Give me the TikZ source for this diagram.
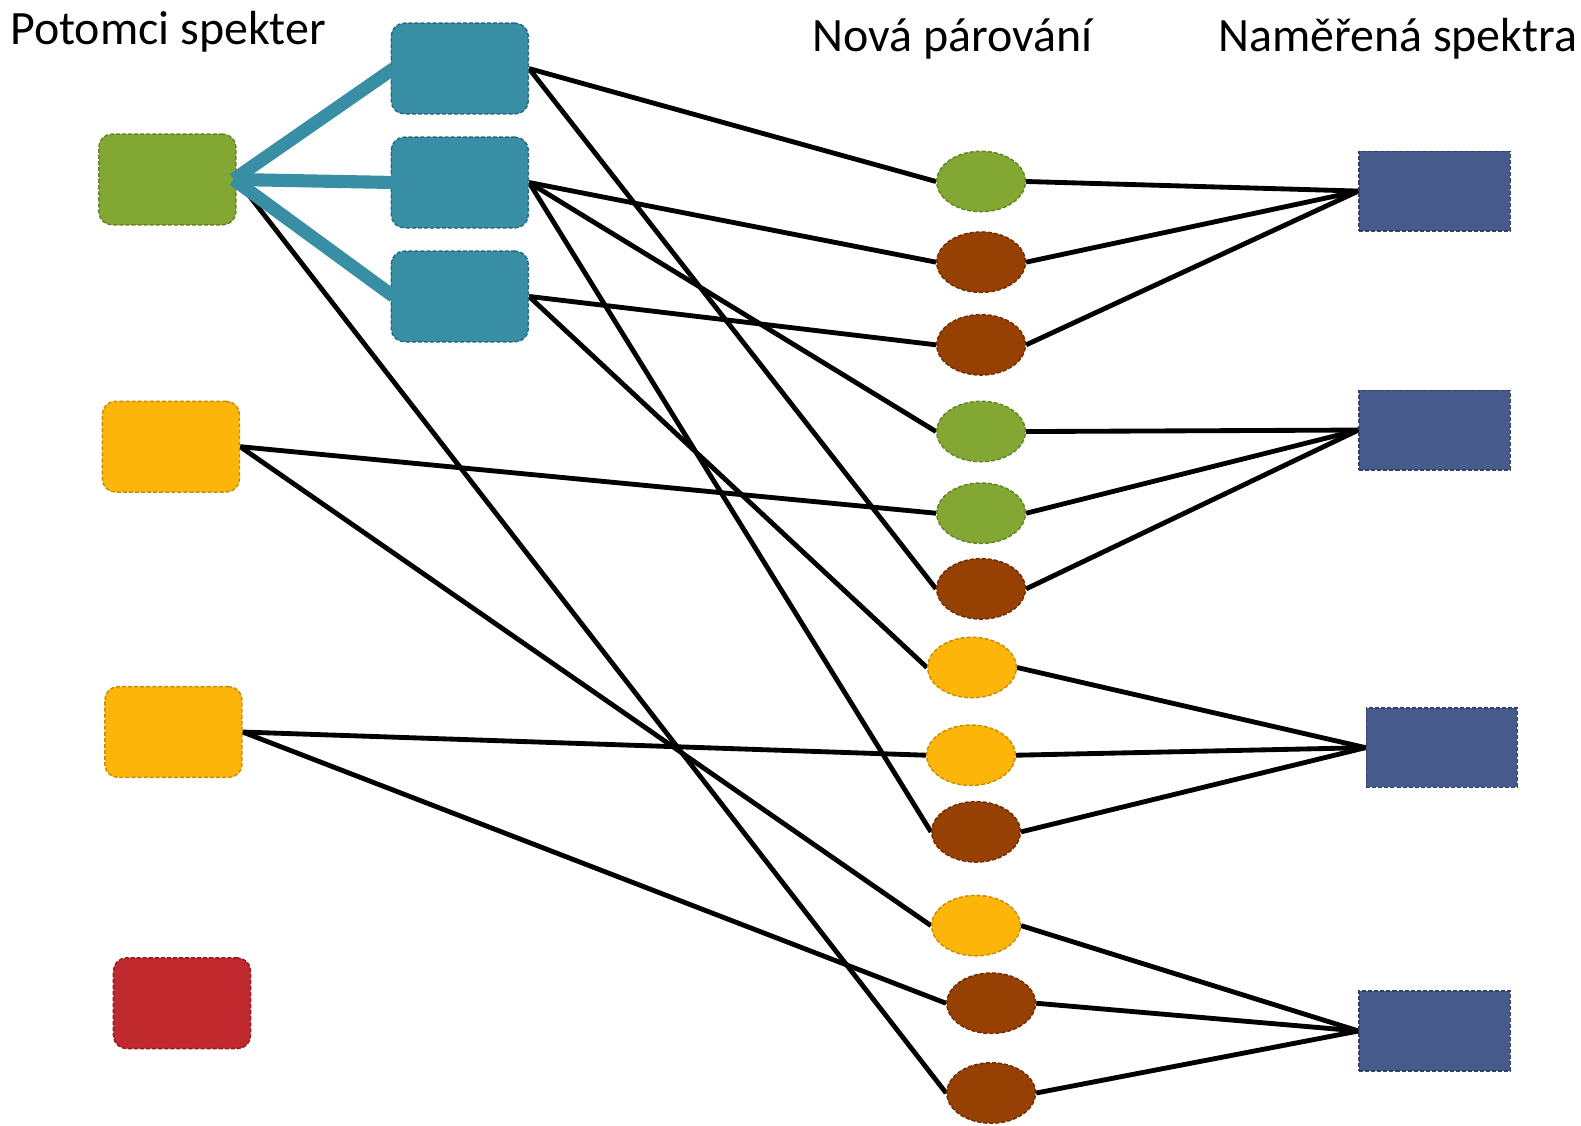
\documentclass[tikz,border=0pt]{standalone}
\usepackage{fontspec}
\setmainfont{Carlito}
\usetikzlibrary{shapes.geometric,backgrounds}
\definecolor{cgreen}{RGB}{130,167,50}
\definecolor{cgreenD}{RGB}{100,130,38}
\definecolor{cteal}{RGB}{56,142,165}
\definecolor{ctealD}{RGB}{40,105,125}
\definecolor{cyellow}{RGB}{253,181,10}
\definecolor{cyellowD}{RGB}{200,140,0}
\definecolor{cred}{RGB}{192,41,45}
\definecolor{credD}{RGB}{140,28,32}
\definecolor{cbrown}{RGB}{150,64,3}
\definecolor{cbrownD}{RGB}{110,45,2}
\definecolor{cblue}{RGB}{70,90,140}
\definecolor{cblueD}{RGB}{50,65,105}
\begin{document}
\begin{tikzpicture}[x=1pt,y=-1pt,
  dashborder/.style={draw, dash pattern=on 4pt off 2pt, line width=1.4pt},
  rbox/.style={dashborder, rounded corners=13pt, minimum width=136pt, minimum height=90pt, inner sep=0pt},
  ell/.style={dashborder, ellipse, minimum width=88pt, minimum height=60pt, inner sep=0pt},
  bbox/.style={dashborder, fill=cblue, draw=cblueD, minimum width=150pt, minimum height=79pt, inner sep=0pt},
  gfill/.style={fill=cgreen, draw=cgreenD},
  tfill/.style={fill=cteal, draw=ctealD},
  yfill/.style={fill=cyellow, draw=cyellowD},
  rfill/.style={fill=cred, draw=credD},
  bfill/.style={fill=cbrown, draw=cbrownD},
  link/.style={line width=4.8pt, black},
  tlink/.style={line width=13pt, cteal},
  title/.style={font=\fontsize{47.5}{54}\selectfont, anchor=base west, inner sep=0pt}
]
\useasboundingbox (0,0) rectangle (1568,1116);

\node[title] (t1) at (10,44) {Potomci spekter};
\node[title] (t2) at (806,51) {Nová párování};
\node[title] (t3) at (1208,51) {Naměřená spektra};

% left column
\node[rbox,gfill] (g) at (166,178) {};
\node[rbox,yfill] (y1) at (169.5,443) {};
\node[rbox,yfill] (y2) at (172,726) {};
\node[rbox,rfill] (r) at (180.5,995) {};

% teal
\node[rbox,tfill] (a1) at (456,68) {};
\node[rbox,tfill] (a2) at (456,181) {};
\node[rbox,tfill] (a3) at (456,294) {};

% ellipses
\node[ell,gfill] (e1) at (973,180) {};
\node[ell,bfill] (e2) at (973,260) {};
\node[ell,bfill] (e3) at (973,342) {};
\node[ell,gfill] (e4) at (973,428) {};
\node[ell,gfill] (e5) at (973,509) {};
\node[ell,bfill] (e6) at (973,584) {};
\node[ell,yfill] (e7) at (964,662) {};
\node[ell,yfill] (e8) at (963,749) {};
\node[ell,bfill] (e9) at (968,825) {};
\node[ell,yfill] (e10) at (968,918) {};
\node[ell,bfill] (e11) at (983,995) {};
\node[ell,bfill] (e12) at (983,1084) {};

% blue
\node[bbox] (b1) at (1423,189.5) {};
\node[bbox] (b2) at (1423,426.5) {};
\node[bbox] (b3) at (1430,741.5) {};
\node[bbox] (b4) at (1423,1022.5) {};

\begin{pgfonlayer}{background}
  \draw[link] (a1.east) -- (e1.west);
  \draw[link] (a1.east) -- (e6.west);
  \draw[link] (a2.east) -- (e2.west);
  \draw[link] (a2.east) -- (e4.west);
  \draw[link] (a2.east) -- (e9.west);
  \draw[link] (a3.east) -- (e3.west);
  \draw[link] (a3.east) -- (e7.west);
  \draw[link] (y1.east) -- (e5.west);
  \draw[link] (y1.east) -- (e10.west);
  \draw[link] (y2.east) -- (e8.west);
  \draw[link] (y2.east) -- (e11.west);
  \draw[link] (g.east) -- (e12.west);
  \foreach \e in {e1,e2,e3} \draw[link] (\e.east) -- (b1.west);
  \foreach \e in {e4,e5,e6} \draw[link] (\e.east) -- (b2.west);
  \foreach \e in {e7,e8,e9} \draw[link] (\e.east) -- (b3.west);
  \foreach \e in {e10,e11,e12} \draw[link] (\e.east) -- (b4.west);
\end{pgfonlayer}

\draw[tlink] ([xshift=-3pt]g.east) -- ([xshift=3pt]a1.west);
\draw[tlink] ([xshift=-3pt]g.east) -- ([xshift=3pt]a2.west);
\draw[tlink] ([xshift=-3pt]g.east) -- ([xshift=3pt]a3.west);
\end{tikzpicture}
\end{document}
